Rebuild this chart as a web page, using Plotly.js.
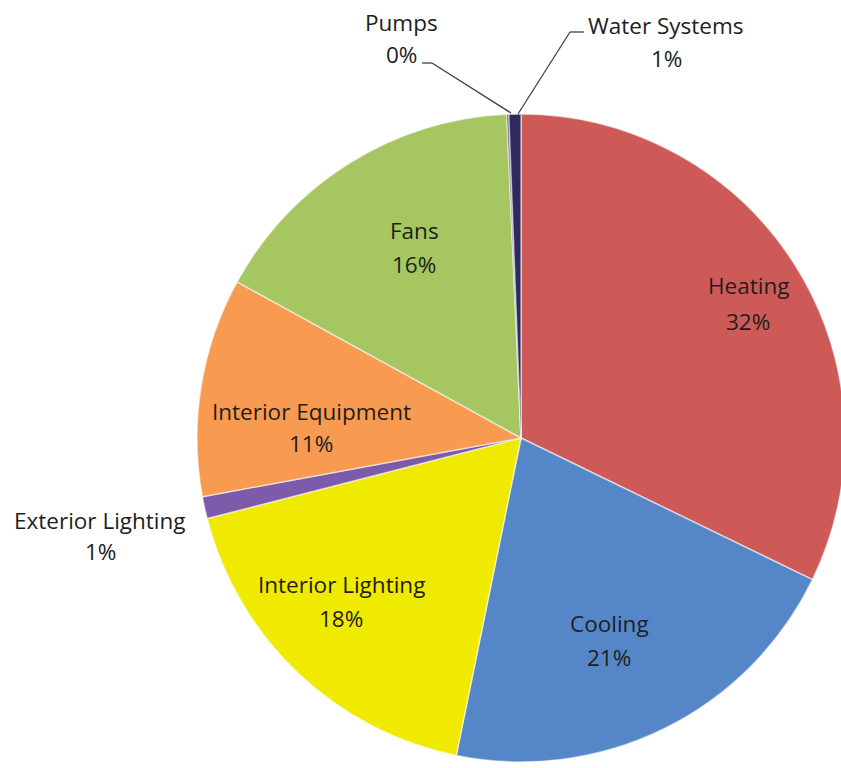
<!DOCTYPE html>
<html>
<head>
<meta charset="utf-8">
<script src="https://cdn.plot.ly/plotly-3.0.1.min.js"></script>
<style>
html, body { margin:0; padding:0; overflow:hidden; background:#fff; }
#chart { width:850px; height:768px; }
</style>
</head>
<body>
<div id="chart"></div>
<script>
// Data
const categories = ["Heating", "Cooling", "Interior Lighting", "Exterior Lighting", "Interior Equipment", "Fans", "Pumps", "Water Systems"];
const values = [32.2, 21.0, 17.8, 1.1, 10.9, 16.3, 0.1, 0.6];
const percentLabels = ["32%", "21%", "18%", "1%", "11%", "16%", "0%", "1%"];
const colors = ["#CE5A57", "#5587C8", "#EFEA00", "#7B5BAA", "#F89A50", "#A5C661", "#3A3470", "#2E2A5C"];

// Label placement (pixels): [nameX, nameY, pctX, pctY]
const labelPos = [
  [748, 286, 748, 321],
  [609, 623, 609, 657],
  [341, 584, 341, 618],
  [100, 520, 100, 551],
  [311, 411, 311, 443],
  [414, 230, 414, 265],
  [401, 22, 401, 54],
  [666, 25, 666, 58]
];

const W = 850, H = 768;
const px = x => x / W;
const py = y => 1 - y / H;
const labelFont = {family:'Open Sans, sans-serif', size:22.5, color:'#1e1e1e'};

const annotations = [];
categories.forEach((c, i) => {
  const p = labelPos[i];
  annotations.push({xref:'paper', yref:'paper', x:px(p[0]), y:py(p[1]), text:c, showarrow:false, xanchor:'center', yanchor:'middle', font:labelFont});
  annotations.push({xref:'paper', yref:'paper', x:px(p[2]), y:py(p[3]), text:percentLabels[i], showarrow:false, xanchor:'center', yanchor:'middle', font:labelFont});
});

const lineStyle = {color:'#404040', width:1.3};
const shapes = [
  {type:'line', xref:'paper', yref:'paper', x0:px(422), y0:py(63), x1:px(432), y1:py(63), line:lineStyle},
  {type:'line', xref:'paper', yref:'paper', x0:px(432), y0:py(63), x1:px(511), y1:py(113), line:lineStyle},
  {type:'line', xref:'paper', yref:'paper', x0:px(570), y0:py(32), x1:px(584), y1:py(32), line:lineStyle},
  {type:'line', xref:'paper', yref:'paper', x0:px(570), y0:py(32), x1:px(518), y1:py(114), line:lineStyle}
];

const trace = {
  type:'pie',
  labels:categories,
  values:values,
  sort:false,
  direction:'clockwise',
  rotation:0,
  textinfo:'none',
  hoverinfo:'label+percent',
  marker:{colors:colors, line:{color:'rgba(255,255,255,0.55)', width:1.5}},
  domain:{x:[197/W, 845/W], y:[py(762), py(114)]},
  showlegend:false
};

Plotly.newPlot('chart', [trace], {
  width:W, height:H,
  margin:{l:0, r:0, t:0, b:0},
  paper_bgcolor:'#fff',
  plot_bgcolor:'#fff',
  showlegend:false,
  annotations:annotations,
  shapes:shapes
}, {displayModeBar:false, staticPlot:true});
</script>
</body>
</html>
